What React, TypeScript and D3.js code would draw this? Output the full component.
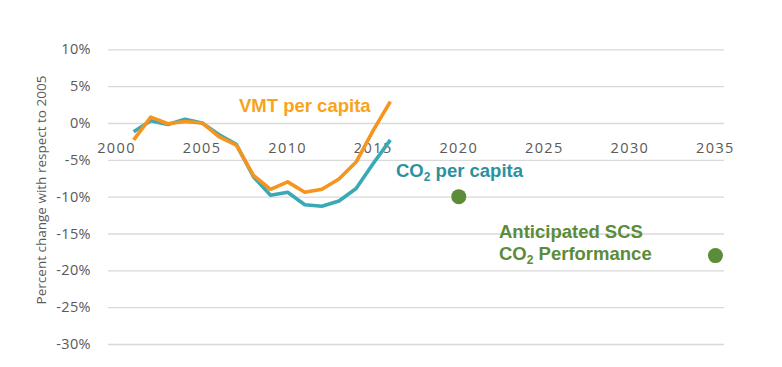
import React, { useEffect, useRef } from "react";
import * as d3 from "d3";

const WIDTH = 782;
const HEIGHT = 367;
const X_RANGE = [108, 724];
const Y_RANGE = [344, 49.3];

// categories: every year 2000..2035, only multiples of 5 labelled
const YEARS = d3.range(2000, 2036);
const YEAR_LABELS = [2000, 2005, 2010, 2015, 2020, 2025, 2030, 2035];
const Y_TICKS = [10, 5, 0, -5, -10, -15, -20, -25, -30];

const HIST_YEARS = [2001, 2002, 2003, 2004, 2005, 2006, 2007, 2008, 2009, 2010, 2011, 2012, 2013, 2014, 2015, 2016];
const VMT = [-2.3, 0.8, -0.1, 0.2, 0, -1.9, -3.0, -7.1, -9.0, -8.0, -9.4, -9.0, -7.6, -5.3, -1.0, 2.9];
const CO2 = [-1.2, 0.3, -0.2, 0.5, 0, -1.6, -2.9, -7.3, -9.8, -9.4, -11.1, -11.3, -10.6, -8.9, -5.5, -2.3];

const TARGET_YEARS = [2020, 2035];
const TARGETS = [-10, -18];

const ORANGE = "#f7941d";
const TEAL = "#3aa9b6";
const TEAL_TEXT = "#2a91a1";
const GREEN = "#5b8c3a";
const GREY = "#595959";

const xBand = d3.scaleBand<number>().domain(YEARS).range(X_RANGE as [number, number]);
const X = (yr: number) => (xBand(yr) as number) + xBand.bandwidth() / 2;
const Y = d3.scaleLinear().domain([-30, 10]).range(Y_RANGE);

export default function App() {
  const ref = useRef<SVGSVGElement>(null);

  useEffect(() => {
    const svg = d3.select(ref.current);
    svg.selectAll("*").remove();

    // gridlines
    const yGrid = d3
      .axisLeft(Y)
      .tickValues(Y_TICKS)
      .tickSize(-(X_RANGE[1] - X_RANGE[0]))
      .tickFormat(() => "");
    const gg = svg
      .append("g")
      .attr("transform", "translate(" + X_RANGE[0] + ",0)")
      .call(yGrid);
    gg.select(".domain").remove();
    gg.selectAll("line").attr("stroke", "#d9d9d9").attr("stroke-width", 1.3);

    // y tick labels
    svg
      .append("g")
      .selectAll("text")
      .data(Y_TICKS)
      .enter()
      .append("text")
      .attr("x", 91)
      .attr("y", (d) => Y(d))
      .attr("dy", "0.35em")
      .attr("text-anchor", "end")
      .attr("font-family", "'Open Sans', sans-serif")
      .attr("font-size", "14.5px")
      .attr("letter-spacing", "0.4px")
      .attr("fill", GREY)
      .text((d) => d + "%");

    // year labels sit just below the 0% line
    svg
      .append("g")
      .selectAll("text")
      .data(YEAR_LABELS)
      .enter()
      .append("text")
      .attr("x", (d) => X(d))
      .attr("y", 153)
      .attr("text-anchor", "middle")
      .attr("font-family", "'Open Sans', sans-serif")
      .attr("font-size", "14.5px")
      .attr("letter-spacing", "1.4px")
      .attr("fill", GREY)
      .text((d) => d);

    // y axis title
    svg
      .append("text")
      .attr("transform", "translate(46,190) rotate(-90)")
      .attr("text-anchor", "middle")
      .attr("font-family", "'Open Sans', sans-serif")
      .attr("font-size", "13.5px")
      .attr("fill", GREY)
      .text("Percent  change with respect  to 2005");

    const line = d3
      .line<number>()
      .x((d, i) => X(HIST_YEARS[i]))
      .y((d) => Y(d));

    svg
      .append("path")
      .attr("d", line(CO2))
      .attr("fill", "none")
      .attr("stroke", TEAL)
      .attr("stroke-width", 3.6)
      .attr("stroke-linejoin", "round");
    svg
      .append("path")
      .attr("d", line(VMT))
      .attr("fill", "none")
      .attr("stroke", ORANGE)
      .attr("stroke-width", 3.6)
      .attr("stroke-linejoin", "round");

    svg
      .append("g")
      .selectAll("circle")
      .data(TARGETS)
      .enter()
      .append("circle")
      .attr("cx", (d, i) => X(TARGET_YEARS[i]))
      .attr("cy", (d) => Y(d))
      .attr("r", 7.5)
      .attr("fill", GREEN);

    const bold = (x: number, y: number, color: string) =>
      svg
        .append("text")
        .attr("x", x)
        .attr("y", y)
        .attr("font-family", "'Liberation Sans', Arial, sans-serif")
        .attr("font-weight", "bold")
        .attr("font-size", "18.5px")
        .attr("fill", color);

    bold(239, 112, "#f9a21b").text("VMT per capita");

    const co2 = bold(396, 177, TEAL_TEXT);
    co2.append("tspan").text("CO");
    co2.append("tspan").attr("font-size", "12px").attr("dy", 4).text("2");
    co2.append("tspan").attr("dy", -4).text(" per capita");

    bold(499, 238, GREEN).text("Anticipated SCS");
    const perf = bold(499, 260, GREEN);
    perf.append("tspan").text("CO");
    perf.append("tspan").attr("font-size", "12px").attr("dy", 4).text("2");
    perf.append("tspan").attr("dy", -4).text(" Performance");
  }, []);

  return (
    <svg
      ref={ref}
      width={WIDTH}
      height={HEIGHT}
      style={{ position: "absolute", left: 0, top: 0, background: "#fff" }}
    />
  );
}
